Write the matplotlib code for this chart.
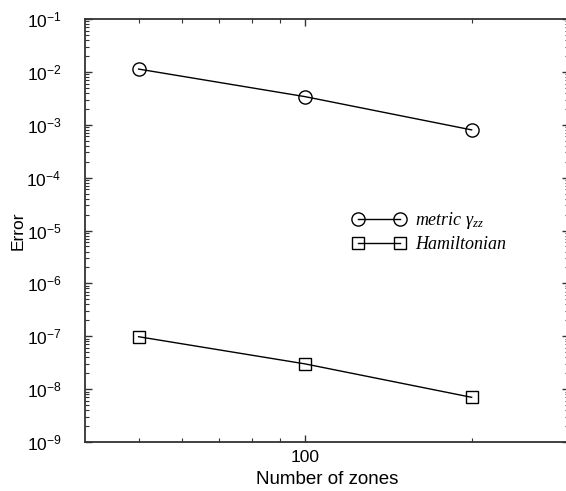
import matplotlib
matplotlib.use("Agg")
import matplotlib.pyplot as plt
from matplotlib.ticker import LogLocator, FixedLocator, NullFormatter, FixedFormatter, LogFormatterSciNotation
import numpy as np

plt.rcParams['font.family'] = ['Liberation Sans', 'DejaVu Sans']
plt.rcParams['mathtext.fontset'] = 'custom'
plt.rcParams['mathtext.rm'] = 'Liberation Serif'
plt.rcParams['mathtext.it'] = 'Liberation Serif:italic'
plt.rcParams['axes.unicode_minus'] = False

# convergence data
zones = [50, 100, 200]
err_metric = [1.13e-2, 3.4e-3, 8.0e-4]
err_ham = [9.8e-8, 3.0e-8, 7.0e-9]
decades = [10.0 ** k for k in range(-9, 0)]

fig = plt.figure(figsize=(5.66, 4.91), dpi=100)
ax = fig.add_axes([85 / 566, 1 - 442 / 491, 484 / 566, 423 / 491])

ax.plot(zones, err_metric, color="black", lw=1.0, marker="o", ms=9.5,
        mfc="none", mec="black", mew=1.0, label=r"metric $\gamma_{zz}$")
ax.plot(zones, err_ham, color="black", lw=1.0, marker="s", ms=8,
        mfc="none", mec="black", mew=1.0, label="Hamiltonian")

ax.set_xscale("log")
ax.set_yscale("log")
ax.set_xlim(40, 300)
ax.set_ylim(1e-9, 1e-1)

ax.xaxis.set_major_locator(FixedLocator([100]))
ax.xaxis.set_major_formatter(FixedFormatter(["100"]))
ax.xaxis.set_minor_locator(FixedLocator([50, 60, 70, 80, 90, 200]))
ax.xaxis.set_minor_formatter(NullFormatter())

ax.yaxis.set_major_locator(FixedLocator(decades))
ax.yaxis.set_major_formatter(LogFormatterSciNotation())
ax.yaxis.set_minor_locator(LogLocator(base=10, subs=np.arange(2, 10), numticks=20))
ax.yaxis.set_minor_formatter(NullFormatter())

ax.tick_params(which="both", direction="in", top=True, right=True, color="#333333")
ax.tick_params(which="major", length=5, width=1.0, labelsize=12.5)
ax.tick_params(which="minor", length=3, width=0.8)
ax.tick_params(axis="y", which="major", pad=17)
ax.tick_params(axis="x", which="major", pad=6)

for s in ax.spines.values():
    s.set_linewidth(1.3)
    s.set_color("#333333")

ax.set_xlabel("Number of zones", fontsize=13.5, labelpad=4)
ax.set_ylabel("Error", fontsize=12.5)
ax.yaxis.set_label_coords(-0.123, 0.5)

ax.legend(loc="center left", bbox_to_anchor=(0.553, 0.497), frameon=False,
          numpoints=2, handlelength=2.93, handletextpad=0.53, labelspacing=0.3,
          borderpad=0, borderaxespad=0,
          prop={"family": "Liberation Serif", "style": "italic", "size": 13})

fig.savefig("out.png", dpi=100)
